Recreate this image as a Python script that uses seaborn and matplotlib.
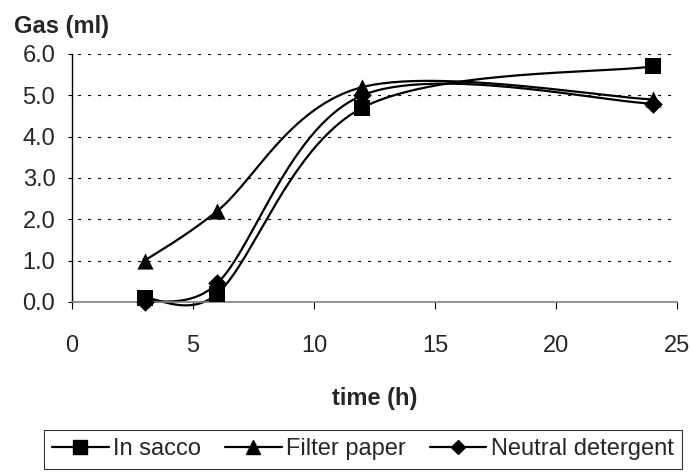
import numpy as np
import pandas as pd
import matplotlib
matplotlib.use("Agg")
import matplotlib.pyplot as plt
from matplotlib.lines import Line2D
from matplotlib import font_manager
import seaborn as sns

# ---- data ----
time_h = [3, 6, 12, 24]
in_sacco = [0.1, 0.2, 4.7, 5.7]
filter_paper = [1.0, 2.2, 5.2, 4.9]
neutral_detergent = [0.0, 0.45, 5.0, 4.8]
series_names = ["In sacco", "Filter paper", "Neutral detergent"]
series_markers = ["s", "^", "D"]
x_ticks = [0, 5, 10, 15, 20, 25]
y_ticks = [0.0, 1.0, 2.0, 3.0, 4.0, 5.0, 6.0]

sns.set_theme(style="white")
installed = {f.name for f in font_manager.fontManager.ttflist}
NARROW = "Liberation Sans Narrow" in installed
BASE = "Liberation Sans Narrow" if NARROW else "Liberation Sans"
plt.rcParams["font.family"] = [BASE, "Liberation Sans", "DejaVu Sans"]
TXT = 19 if NARROW else 17
BOLD = 19 if NARROW else 17

FIG_W, FIG_H = 692, 476
AX_L, AX_R, AX_T, AX_B = 72, 677, 54, 302  # pixel box of the plot area
SX = (AX_R - AX_L) / 25.0
SY = (AX_B - AX_T) / 6.0


def smooth(xs, ys, n=60):
    """Excel-like smoothed line: cubic Bezier with limited Catmull-Rom handles
    (computed in pixel space)."""
    P = np.column_stack([np.asarray(xs, float) * SX, np.asarray(ys, float) * SY])
    m = len(P)
    out = []
    for i in range(m - 1):
        p0 = P[i - 1] if i > 0 else P[i]
        p1 = P[i]
        p2 = P[i + 1]
        p3 = P[i + 2] if i + 2 < m else P[i + 1]
        d12 = np.linalg.norm(p2 - p1)
        d02 = np.linalg.norm(p2 - p0)
        d13 = np.linalg.norm(p3 - p1)
        f0 = 1 / 6 if d02 / 6 < d12 / 2 else d12 / (2 * d02)
        f1 = 1 / 6 if d13 / 6 < d12 / 2 else d12 / (2 * d13)
        c1 = p1 + (p2 - p0) * f0
        c2 = p2 - (p3 - p1) * f1
        t = np.linspace(0, 1, n)[:, None]
        seg = ((1 - t) ** 3) * p1 + 3 * ((1 - t) ** 2) * t * c1 + 3 * (1 - t) * t ** 2 * c2 + t ** 3 * p2
        if i > 0:
            seg = seg[1:]
        out.append(seg)
    pts = np.vstack(out)
    return pts[:, 0] / SX, pts[:, 1] / SY


fig = plt.figure(figsize=(FIG_W / 100, FIG_H / 100), dpi=100)
ax = fig.add_axes([AX_L / FIG_W, 1 - AX_B / FIG_H,
                   (AX_R - AX_L) / FIG_W, (AX_B - AX_T) / FIG_H])

values = [in_sacco, filter_paper, neutral_detergent]
marker_sizes = {"s": 125, "^": 135, "D": 90}
for name, mk, vals in zip(series_names, series_markers, values):
    cx, cy = smooth(time_h, vals)
    df_c = pd.DataFrame({"x": cx, "y": cy})
    sns.lineplot(data=df_c, x="x", y="y", ax=ax, color="black", lw=1.6,
                 sort=False, estimator=None, legend=False, clip_on=False)
    df_p = pd.DataFrame({"x": time_h, "y": vals})
    sns.scatterplot(data=df_p, x="x", y="y", ax=ax, color="black", marker=mk,
                    s=marker_sizes[mk], edgecolor="black", linewidth=0,
                    legend=False, zorder=5, clip_on=False)

ax.set_xlim(0, 25)
ax.set_ylim(0, 6)
ax.set_xticks(x_ticks)
ax.set_yticks(y_ticks)
ax.set_yticklabels([f"{v:.1f}" for v in y_ticks], fontsize=TXT)
ax.set_xticklabels([str(v) for v in x_ticks], fontsize=TXT)
ax.set_xlabel("time (h)", fontsize=BOLD, fontweight="bold")
ax.xaxis.set_label_coords(0.5, -(387 - AX_B) / (AX_B - AX_T))
ax.set_ylabel("")

for y in y_ticks[1:]:
    ax.axhline(y, color="black", lw=0.8, linestyle=(4, (2.7, 6.3)), zorder=0)

for s in ["top", "right"]:
    ax.spines[s].set_visible(False)
ax.spines["left"].set_color("black")
ax.spines["left"].set_linewidth(1.0)
ax.spines["bottom"].set_color("#808080")
ax.spines["bottom"].set_linewidth(1.2)
ax.tick_params(axis="y", which="both", direction="out", length=3, width=0.8,
               color="black", pad=9, left=True)
ax.tick_params(axis="x", which="both", direction="out", length=5, width=0.8,
               color="black", pad=19, bottom=True)

fig.text(14 / FIG_W, 1 - 27 / FIG_H, "Gas (ml)", fontsize=BOLD, fontweight="bold",
         ha="left", va="center")

handles = [Line2D([0], [0], color="black", lw=1.6, marker=mk,
                  markersize=(9.5 if mk != "D" else 7.5)) for mk in series_markers]
leg = fig.legend(handles, series_names, loc="upper center",
                 bbox_to_anchor=(363 / FIG_W, 1 - 430 / FIG_H),
                 ncol=3, frameon=True, fontsize=TXT, handlelength=2.4,
                 handletextpad=0.2, columnspacing=1.0, borderpad=0.35,
                 borderaxespad=0.0, fancybox=False)
leg.get_frame().set_edgecolor("black")
leg.get_frame().set_linewidth(0.8)

fig.savefig("out.png", dpi=100)
